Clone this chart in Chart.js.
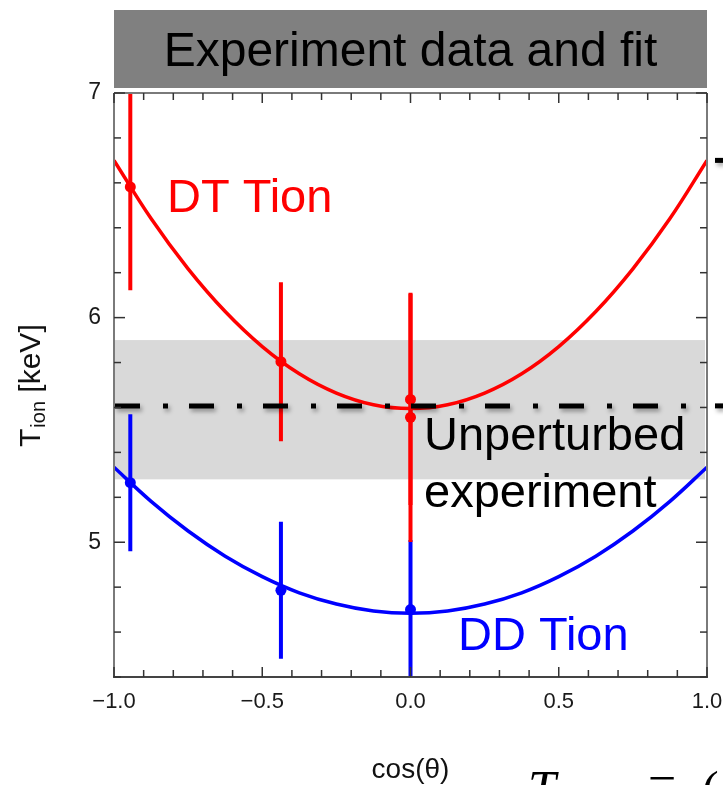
<!DOCTYPE html>
<html><head><meta charset="utf-8">
<script src="https://cdn.jsdelivr.net/npm/chart.js@4"></script>
<style>html,body{margin:0;padding:0;background:#fff}#wrap{width:723px;height:785px;position:relative}</style>
</head><body><div id="wrap"><canvas id="c"></canvas></div>
<script>
// ---- data ----
const FIT_COS = [-1, -0.875, -0.75, -0.625, -0.5, -0.375, -0.25, -0.125, 0, 0.125, 0.25, 0.375, 0.5, 0.625, 0.75, 0.875, 1];
const DT_FIT = [6.700, 6.441, 6.217, 6.027, 5.871, 5.750, 5.664, 5.612, 5.595, 5.612, 5.664, 5.750, 5.871, 6.027, 6.217, 6.441, 6.700];
const DD_FIT = [5.334, 5.182, 5.050, 4.938, 4.847, 4.775, 4.725, 4.694, 4.684, 4.694, 4.725, 4.775, 4.847, 4.938, 5.050, 5.182, 5.334];
const DT_COS = [-0.945, -0.437, 0.0, 0.0];
const DT_TION = [6.582, 5.804, 5.636, 5.556];
const DT_ERR = [0.46, 0.354, 0.47, 0.555];
const DD_COS = [-0.945, -0.437, 0.0];
const DD_TION = [5.265, 4.786, 4.700];
const DD_ERR = [0.305, 0.305, 0.31];
const BAND = [5.28, 5.90];
const UNPERTURBED = 5.607;
const RIGHT_MARKS = [6.70, 5.607];
const X_TICKS = [-1.0, -0.5, 0.0, 0.5, 1.0];
const X_LABELS = ['\u22121.0', '\u22120.5', '0.0', '0.5', '1.0'];
const Y_TICKS = [5, 6, 7];
const Y_LABELS = ['5', '6', '7'];
const X_RANGE = [-1, 1];
const Y_RANGE = [4.4, 7.0];
const TITLE = 'Experiment data and fit';
const X_TITLE = 'cos(\u03b8)';

const RED = '#ff0000', BLUE = '#0000ff';
const FONT = '"Liberation Sans", Arial, Helvetica, sans-serif';

const datasets = [];
datasets.push({ data: FIT_COS.map((x, i) => ({x, y: DT_FIT[i]})), showLine: true, borderColor: RED, borderWidth: 3.5, pointRadius: 0, tension: 0.4, order: 5 });
datasets.push({ data: FIT_COS.map((x, i) => ({x, y: DD_FIT[i]})), showLine: true, borderColor: BLUE, borderWidth: 3.5, pointRadius: 0, tension: 0.4, order: 6 });
DT_COS.forEach((x, i) => datasets.push({ data: [{x, y: DT_TION[i] - DT_ERR[i]}, {x, y: DT_TION[i] + DT_ERR[i]}], showLine: true, borderColor: RED, borderWidth: 4, pointRadius: 0, order: 3 }));
DD_COS.forEach((x, i) => datasets.push({ data: [{x, y: DD_TION[i] - DD_ERR[i]}, {x, y: DD_TION[i] + DD_ERR[i]}], showLine: true, borderColor: BLUE, borderWidth: 4, pointRadius: 0, order: 4 }));
datasets.push({ data: DT_COS.map((x, i) => ({x, y: DT_TION[i]})), showLine: false, pointRadius: 5.5, pointBackgroundColor: RED, pointBorderWidth: 0, order: 1 });
datasets.push({ data: DD_COS.map((x, i) => ({x, y: DD_TION[i]})), showLine: false, pointRadius: 5.5, pointBackgroundColor: BLUE, pointBorderWidth: 0, order: 2 });

const deco = {
  id: 'deco',
  beforeDatasetsDraw(chart) {
    const {ctx, chartArea: a, scales: {y}} = chart;
    ctx.save();
    ctx.fillStyle = '#d9d9d9';
    const y1 = y.getPixelForValue(BAND[1]), y0 = y.getPixelForValue(BAND[0]);
    ctx.fillRect(a.left, y1, a.right - a.left - 2, y0 - y1);
    ctx.restore();
  },
  afterDatasetsDraw(chart) {
    const {ctx, chartArea: a, scales: {x, y}} = chart;
    ctx.save();
    // dash-dot unperturbed line with shadow
    ctx.shadowColor = 'rgba(0,0,0,0.35)';
    ctx.shadowBlur = 4; ctx.shadowOffsetX = 2; ctx.shadowOffsetY = 3;
    ctx.strokeStyle = '#000'; ctx.lineWidth = 5;
    const yu = y.getPixelForValue(UNPERTURBED);
    ctx.setLineDash([25, 23, 5, 21]);
    ctx.beginPath(); ctx.moveTo(a.left + 1, yu); ctx.lineTo(a.right - 2, yu); ctx.stroke();
    ctx.setLineDash([]);
    RIGHT_MARKS.forEach(v => {
      const py = y.getPixelForValue(v);
      ctx.beginPath(); ctx.moveTo(a.right + 8, py); ctx.lineTo(723, py); ctx.stroke();
    });
    ctx.restore();

    // frame
    ctx.save();
    ctx.lineWidth = 2;
    ctx.strokeStyle = '#7a7a7a';
    ctx.beginPath(); ctx.moveTo(a.left, a.top); ctx.lineTo(a.left, a.bottom); ctx.stroke();
    ctx.beginPath(); ctx.moveTo(a.right, a.top); ctx.lineTo(a.right, a.bottom); ctx.stroke();
    ctx.beginPath(); ctx.moveTo(a.left, a.top); ctx.lineTo(a.right, a.top); ctx.stroke();
    ctx.strokeStyle = '#444';
    ctx.beginPath(); ctx.moveTo(a.left - 1, a.bottom); ctx.lineTo(a.right + 1, a.bottom); ctx.stroke();
    // ticks
    ctx.strokeStyle = '#333'; ctx.lineWidth = 1.5;
    for (let k = -10; k <= 10; k++) {
      const px = x.getPixelForValue(k / 10);
      const len = (k % 5 === 0) ? 10 : 7;
      ctx.beginPath(); ctx.moveTo(px, a.bottom); ctx.lineTo(px, a.bottom - len); ctx.stroke();
      ctx.beginPath(); ctx.moveTo(px, a.top); ctx.lineTo(px, a.top + len); ctx.stroke();
    }
    for (let k = 22; k <= 35; k++) {
      const py = y.getPixelForValue(k / 5);
      const len = (k % 5 === 0) ? 11 : 7;
      ctx.beginPath(); ctx.moveTo(a.left, py); ctx.lineTo(a.left + len, py); ctx.stroke();
      ctx.beginPath(); ctx.moveTo(a.right, py); ctx.lineTo(a.right - len, py); ctx.stroke();
    }
    ctx.restore();

    // annotations
    ctx.save();
    ctx.textBaseline = 'alphabetic'; ctx.textAlign = 'left';
    ctx.font = '47px ' + FONT;
    ctx.fillStyle = RED; ctx.fillText('DT Tion', 167, 212);
    ctx.fillStyle = '#000';
    ctx.fillText('Unperturbed', 424, 450);
    ctx.fillText('experiment', 424, 507);
    ctx.fillStyle = BLUE; ctx.fillText('DD Tion', 458, 650);
    ctx.restore();

    // title bar
    ctx.save();
    ctx.fillStyle = '#808080';
    ctx.fillRect(a.left, 10, a.right - a.left, 78);
    ctx.fillStyle = '#000'; ctx.font = '48px ' + FONT; ctx.textAlign = 'center';
    ctx.fillText(TITLE, (a.left + a.right) / 2, 66);
    ctx.restore();

    // axis titles
    ctx.save();
    ctx.fillStyle = '#111';
    ctx.font = '28px ' + FONT; ctx.textAlign = 'center';
    ctx.fillText(X_TITLE, (a.left + a.right) / 2, 778);
    ctx.translate(40, 447); ctx.rotate(-Math.PI / 2);
    ctx.textAlign = 'left';
    ctx.font = '30px ' + FONT; ctx.fillText('T', 0, 0);
    let w = ctx.measureText('T').width;
    ctx.font = '20px ' + FONT; ctx.fillText('ion', w + 1, 5);
    w += 1 + ctx.measureText('ion').width;
    ctx.font = '30px ' + FONT; ctx.fillText(' [keV]', w, 0);
    ctx.restore();

    // cut-off formula at bottom right
    ctx.save();
    ctx.fillStyle = '#000';
    ctx.font = 'italic 50px "Liberation Serif", "DejaVu Serif", serif';
    ctx.fillText('T', 528, 805);
    ctx.font = '50px "Liberation Serif", "DejaVu Serif", serif';
    ctx.fillText('=', 648, 800);
    ctx.fillText('(', 702, 806);
    ctx.restore();
  }
};

new Chart(document.getElementById('c'), {
  type: 'scatter',
  data: { datasets },
  options: {
    responsive: true, maintainAspectRatio: false, animation: false,
    layout: { padding: { top: 93, right: 16, left: 0, bottom: 0 } },
    plugins: { legend: { display: false }, tooltip: { enabled: false } },
    elements: { line: { fill: false } },
    scales: {
      x: {
        type: 'linear', min: X_RANGE[0], max: X_RANGE[1],
        afterFit: s => { s.height = 108; s.paddingLeft = 0; s.paddingRight = 0; },
        afterBuildTicks: s => { s.ticks = X_TICKS.map(v => ({value: v})); },
        ticks: { autoSkip: false, maxRotation: 0, padding: 4, color: '#1a1a1a', font: { family: FONT, size: 22 },
                 callback: (v) => { const i = X_TICKS.findIndex(t => Math.abs(t - v) < 1e-9); return i >= 0 ? X_LABELS[i] : ''; } },
        grid: { display: false }, border: { display: false }
      },
      y: {
        type: 'linear', min: Y_RANGE[0], max: Y_RANGE[1],
        afterFit: s => { s.width = 114; s.paddingTop = 0; s.paddingBottom = 0; },
        afterBuildTicks: s => { s.ticks = Y_TICKS.map(v => ({value: v})); },
        ticks: { autoSkip: false, padding: 5, color: '#1a1a1a', font: { family: FONT, size: 23 },
                 callback: (v) => { const i = Y_TICKS.findIndex(t => Math.abs(t - v) < 1e-9); return i >= 0 ? Y_LABELS[i] : ''; } },
        grid: { display: false }, border: { display: false }
      }
    }
  },
  plugins: [deco]
});
</script></body></html>
